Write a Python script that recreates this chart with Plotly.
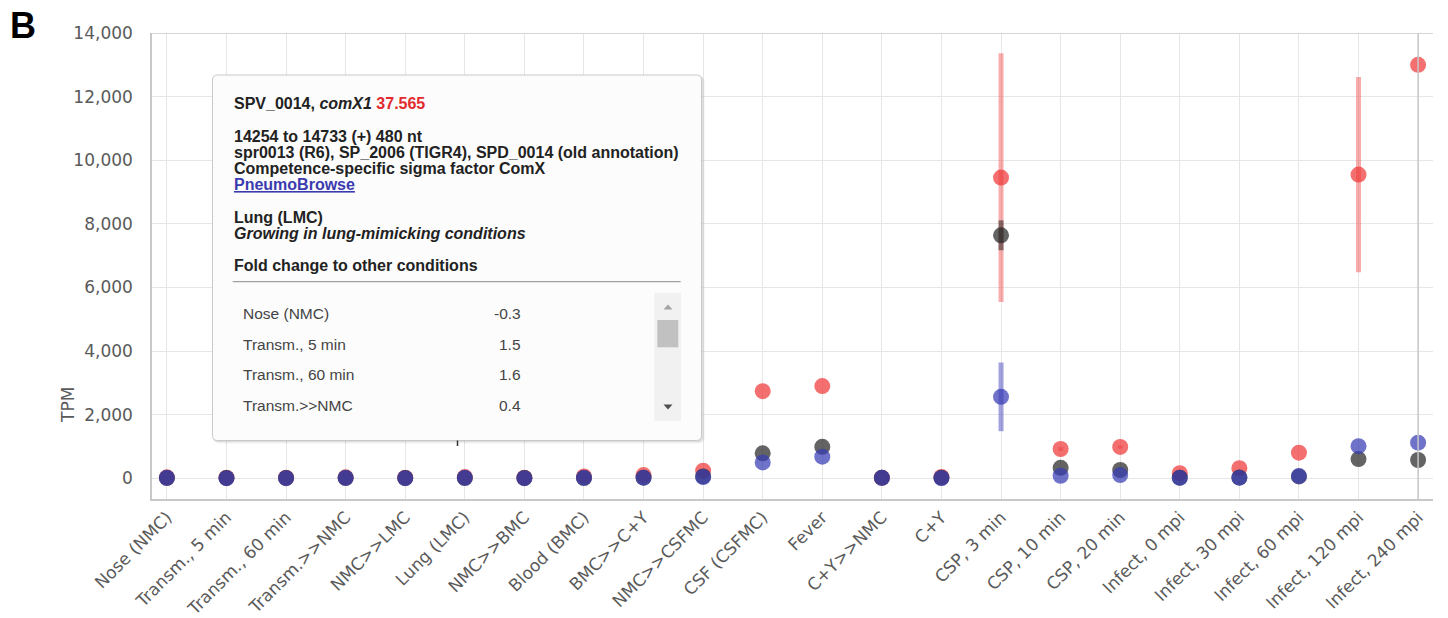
import plotly.graph_objects as go

# ---------------- data ----------------
categories = ["Nose (NMC)", "Transm., 5 min", "Transm., 60 min", "Transm.>>NMC", "NMC>>LMC",
              "Lung (LMC)", "NMC>>BMC", "Blood (BMC)", "BMC>>C+Y", "NMC>>CSFMC", "CSF (CSFMC)",
              "Fever", "C+Y>>NMC", "C+Y", "CSP, 3 min", "CSP, 10 min", "CSP, 20 min",
              "Infect, 0 mpi", "Infect, 30 mpi", "Infect, 60 mpi", "Infect, 120 mpi", "Infect, 240 mpi"]

red_tpm = [30, 20, 20, 30, 20, 38, 20, 60, 100, 240, 2740, 2900, 20, 40, 9455, 920, 985,
           160, 315, 805, 9550, 13000]
red_err = [0, 0, 0, 0, 0, 0, 0, 0, 0, 0, 0, 0, 0, 0, 3910, 60, 50, 0, 0, 0, 3070, 0]

black_tpm = [10, 10, 10, 10, 10, 10, 10, 10, 20, 60, 785, 990, 15, 15, 7640, 330, 260,
             20, 25, 60, 605, 575]
black_err = [0, 0, 0, 0, 0, 0, 0, 0, 0, 0, 0, 0, 0, 0, 470, 0, 0, 0, 0, 0, 0, 0]

blue_tpm = [15, 5, 5, 15, 5, 15, 5, 15, 20, 40, 500, 680, 15, 10, 2560, 80, 100,
            15, 20, 70, 1010, 1120]
blue_err = [0, 0, 0, 0, 0, 0, 0, 0, 0, 0, 0, 0, 0, 0, 1080, 0, 0, 0, 0, 0, 0, 0]

y_ticks = [0, 2000, 4000, 6000, 8000, 10000, 12000, 14000]

table_labels = ["Nose (NMC)", "Transm., 5 min", "Transm., 60 min", "Transm.>>NMC"]
table_values = ["-0.3", "1.5", "1.6", "0.4"]

# ---------------- figure ----------------
fig = go.Figure()

series = [
    (red_tpm, red_err, "rgba(240,55,55,0.72)", "rgba(240,70,70,0.45)"),
    (black_tpm, black_err, "rgba(40,40,40,0.72)", "rgba(40,40,40,0.55)"),
    (blue_tpm, blue_err, "rgba(55,60,180,0.72)", "rgba(70,70,190,0.5)"),
]
for vals, errs, col, ecol in series:
    fig.add_trace(go.Scatter(
        x=categories, y=vals, mode="markers",
        marker=dict(size=16, color=col, line=dict(width=0)),
        error_y=dict(type="data", array=errs, symmetric=True, thickness=5, width=0,
                     color=ecol),
        showlegend=False, hoverinfo="skip"))

L, R, T, B = 152, 1433, 33, 499


def px(x):
    return (x - L) / (R - L)


def py(y):
    return (B - y) / (B - T)


grid = "#e6e6e6"
frame = "#c8c8c8"
tick_font = dict(family="DejaVu Sans", size=17, color="#5a5a5a")

fig.update_layout(
    template="none",
    width=1448, height=618,
    margin=dict(l=L, r=1448 - R, t=T, b=618 - B, pad=0, autoexpand=False),
    paper_bgcolor="white", plot_bgcolor="white",
    font=dict(family="DejaVu Sans"),
    xaxis=dict(type="category", range=[-0.25, 21.25], showgrid=True, gridcolor=grid,
               gridwidth=1, showline=True, linecolor=frame, linewidth=1.5,
               tickangle=-45, tickfont=tick_font, ticks="", zeroline=False,
               automargin=False),
    yaxis=dict(range=[-651, 14000], tickvals=y_ticks, tickformat=",", showgrid=True,
               gridcolor=grid, gridwidth=1, showline=True, linecolor=frame, linewidth=1.5,
               zeroline=False, ticks="", ticklabelstandoff=14, automargin=False,
               tickfont=dict(family="DejaVu Sans", size=17, color="#5a5a5a")),
)

shapes = []
# top frame line and right darker line at last category
shapes.append(dict(type="line", xref="paper", yref="y", x0=0, x1=1, y0=14000, y1=14000,
                   line=dict(color=frame, width=1.5)))
shapes.append(dict(type="line", xref="x", yref="paper", x0=21, x1=21, y0=0, y1=1,
                   line=dict(color=frame, width=1.5)))


def rrect(x0, y0, x1, y1, r):
    pts = [("M", x0 + r, y0), ("L", x1 - r, y0), ("Q", x1, y0, x1, y0 + r),
           ("L", x1, y1 - r), ("Q", x1, y1, x1 - r, y1), ("L", x0 + r, y1),
           ("Q", x0, y1, x0, y1 - r), ("L", x0, y0 + r), ("Q", x0, y0, x0 + r, y0)]
    s = ""
    for p in pts:
        if p[0] == "Q":
            s += "Q%.5f,%.5f %.5f,%.5f " % (px(p[1]), py(p[2]), px(p[3]), py(p[4]))
        else:
            s += "%s%.5f,%.5f " % (p[0], px(p[1]), py(p[2]))
    return s + "Z"


tx0, ty0, tx1, ty1 = 212.5, 75, 701.5, 440.5
# shadow
shapes.append(dict(type="path", xref="paper", yref="paper", layer="above",
                   path=rrect(tx0 + 1, ty0 + 1, tx1 + 3, ty1 + 3, 6),
                   fillcolor="rgba(0,0,0,0.06)", line=dict(width=0)))
shapes.append(dict(type="path", xref="paper", yref="paper", layer="above",
                   path=rrect(tx0 + 0.5, ty0 + 0.5, tx1 + 1.5, ty1 + 1.5, 5),
                   fillcolor="rgba(0,0,0,0.08)", line=dict(width=0)))
shapes.append(dict(type="path", xref="paper", yref="paper", layer="above",
                   path=rrect(tx0, ty0, tx1, ty1, 5),
                   fillcolor="rgba(252,252,252,1)", line=dict(color="#c9c9c9", width=1)))
# separator
shapes.append(dict(type="line", xref="paper", yref="paper", layer="above",
                   x0=px(232.7), x1=px(680.7), y0=py(281.7), y1=py(281.7),
                   line=dict(color="#8a8a8a", width=1)))
# scrollbar
shapes.append(dict(type="rect", xref="paper", yref="paper", layer="above",
                   x0=px(654.3), x1=px(681), y0=py(420.7), y1=py(292.7),
                   fillcolor="#f1f1f1", line=dict(width=0)))
shapes.append(dict(type="rect", xref="paper", yref="paper", layer="above",
                   x0=px(657.3), x1=px(678.3), y0=py(347.3), y1=py(320),
                   fillcolor="#c1c1c1", line=dict(width=0)))
shapes.append(dict(type="path", xref="paper", yref="paper", layer="above",
                   path="M%.5f,%.5f L%.5f,%.5f L%.5f,%.5f Z" % (
                       px(663.5), py(309.5), px(672.5), py(309.5), px(668), py(304.5)),
                   fillcolor="#a3a3a3", line=dict(width=0)))
shapes.append(dict(type="path", xref="paper", yref="paper", layer="above",
                   path="M%.5f,%.5f L%.5f,%.5f L%.5f,%.5f Z" % (
                       px(663.5), py(404.5), px(672.5), py(404.5), px(668), py(409.5)),
                   fillcolor="#505050", line=dict(width=0)))
# small tick below tooltip
shapes.append(dict(type="line", xref="paper", yref="paper", layer="above",
                   x0=px(457.5), x1=px(457.5), y0=py(440.5), y1=py(446),
                   line=dict(color="#333333", width=1.5)))
fig.update_layout(shapes=shapes)

ann = []
tip_font = "Liberation Sans"


def tip(text, x, y, size=16, color="#222222", anchor="left"):
    ann.append(dict(text=text, xref="paper", yref="paper", x=px(x), y=py(y),
                    xanchor=anchor, yanchor="middle", showarrow=False,
                    font=dict(family=tip_font, size=size, color=color)))


tip("<b>SPV_0014, <i>comX1</i> <span style='color:#e22a2f'>37.565</span></b>", 232, 103.7)
tip("<b>14254 to 14733 (+) 480 nt</b>", 232, 136.3)
tip("<b>spr0013 (R6), SP_2006 (TIGR4), SPD_0014 (old annotation)</b>", 232, 152.5)
tip("<b>Competence-specific sigma factor ComX</b>", 232, 168.7)
tip("<b><u>PneumoBrowse</u></b>", 232, 184.7, color="#3b3bb0")
tip("<b>Lung (LMC)</b>", 232, 217.5)
tip("<b><i>Growing in lung-mimicking conditions</i></b>", 232, 233.5)
tip("<b>Fold change to other conditions</b>", 232, 265.5)
row_y = [313.5, 344, 374.7, 405]
for lab, val, yy in zip(table_labels, table_values, row_y):
    tip(lab, 240.5, yy, size=15.5, color="#444444")
    tip(val, 523, yy, size=15.5, color="#444444", anchor="right")

# panel letter
ann.append(dict(text="<b>B</b>", xref="paper", yref="paper", x=px(23), y=py(25),
                xanchor="center", yanchor="middle", showarrow=False,
                font=dict(family="Liberation Sans", size=36, color="#000000")))
# y-axis title
ann.append(dict(text="TPM", xref="paper", yref="paper", x=px(68), y=py(405),
                xanchor="center", yanchor="middle", showarrow=False, textangle=-90,
                font=dict(family="DejaVu Sans", size=17, color="#5a5a5a")))
fig.update_layout(annotations=ann)

fig.write_html("out.html", config={"displayModeBar": False},
               post_script="document.body.style.margin='0';document.body.style.overflow='hidden';")
